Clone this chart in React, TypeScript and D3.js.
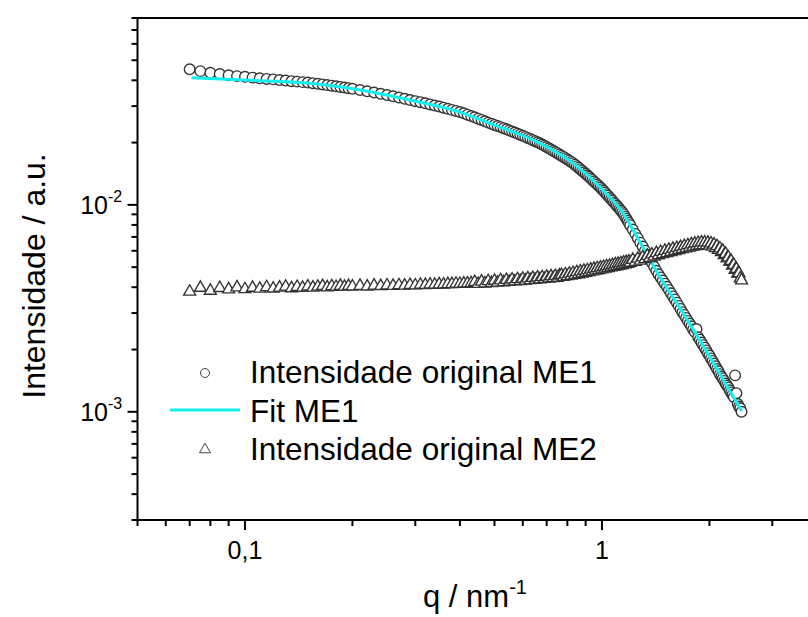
import React from "react";
import * as d3 from "d3";

// ---------- data ----------
const qValues = [
  0.070, 0.075, 0.080, 0.085, 0.090, 0.095, 0.100, 0.105, 0.110, 0.115, 0.120, 0.125, 0.130, 0.135,
  0.140, 0.145, 0.150, 0.155, 0.160, 0.165, 0.170, 0.175, 0.180, 0.185, 0.190, 0.195, 0.200,
  0.21, 0.22, 0.23, 0.24, 0.25, 0.26, 0.27, 0.28, 0.29, 0.30, 0.31, 0.32, 0.33, 0.34, 0.35, 0.36,
  0.37, 0.38, 0.39, 0.40, 0.41, 0.42, 0.43, 0.44, 0.45, 0.46, 0.47, 0.48, 0.49, 0.50, 0.51, 0.52,
  0.53, 0.54, 0.55, 0.56, 0.57, 0.58, 0.59, 0.60, 0.61, 0.62, 0.63, 0.64, 0.65, 0.66, 0.67, 0.68,
  0.69, 0.70, 0.71, 0.72, 0.73, 0.74, 0.75, 0.76, 0.77, 0.78, 0.79, 0.80, 0.81, 0.82, 0.83, 0.84,
  0.85, 0.86, 0.87, 0.88, 0.89, 0.90, 0.91, 0.92, 0.93, 0.94, 0.95, 0.96, 0.97, 0.98, 0.99, 1.00,
  1.01, 1.02, 1.03, 1.04, 1.05, 1.06, 1.07, 1.08, 1.09, 1.10, 1.11, 1.12, 1.13, 1.14, 1.15, 1.16,
  1.17, 1.18, 1.19, 1.20,
  1.22, 1.24, 1.26, 1.28, 1.30, 1.32, 1.34, 1.36, 1.38, 1.40, 1.42, 1.44, 1.46, 1.48, 1.50, 1.52,
  1.54, 1.56, 1.58, 1.60, 1.62, 1.64, 1.66, 1.68, 1.70, 1.72, 1.74, 1.76, 1.78, 1.80, 1.82, 1.84,
  1.86, 1.88, 1.90, 1.92, 1.94, 1.96, 1.98, 2.00, 2.02, 2.04, 2.06, 2.08, 2.10, 2.12, 2.14, 2.16,
  2.18, 2.20, 2.22, 2.24, 2.26, 2.28, 2.30, 2.32, 2.34, 2.36, 2.38, 2.40, 2.42, 2.44, 2.46,
];

const me1Values = [
  0.0452, 0.0443, 0.0435, 0.0429, 0.0423, 0.0419, 0.0416, 0.0412, 0.0409, 0.0406, 0.0404, 0.0401, 0.0399, 0.0396,
  0.0394, 0.0392, 0.0390, 0.03874, 0.03847, 0.03821, 0.03794, 0.03768, 0.03742, 0.03716, 0.03690, 0.03665, 0.03639,
  0.03588, 0.03539, 0.03490, 0.03442, 0.03394, 0.03347, 0.03301, 0.03256, 0.03210, 0.03171, 0.03133, 0.03095, 0.03058, 0.03021, 0.02985, 0.02949,
  0.02913, 0.02878, 0.02843, 0.02809, 0.02769, 0.02728, 0.02688, 0.02649, 0.02610, 0.02572, 0.02534, 0.02497, 0.02464, 0.02434, 0.02405, 0.02376,
  0.02347, 0.02319, 0.02291, 0.02264, 0.02237, 0.02210, 0.02183, 0.02157, 0.02131, 0.02105, 0.02080, 0.02055, 0.02031, 0.02006, 0.01983, 0.01956,
  0.01930, 0.01903, 0.01877, 0.01852, 0.01826, 0.01801, 0.01777, 0.01752, 0.01728, 0.01705, 0.01681, 0.01658, 0.01636, 0.01613, 0.01591, 0.01564,
  0.01538, 0.01512, 0.01487, 0.01462, 0.01437, 0.01413, 0.01389, 0.01366, 0.01343, 0.01320, 0.01298, 0.01276, 0.01255, 0.01234, 0.01213, 0.01191,
  0.01169, 0.01148, 0.01127, 0.01107, 0.01087, 0.01067, 0.01047, 0.01028, 0.01010, 0.00992, 0.00974, 0.00956, 0.00939, 0.00922, 0.00902, 0.00880,
  0.00859, 0.00838, 0.00818, 0.00798,
  0.00760, 0.00724, 0.00690, 0.00657, 0.00629, 0.00601, 0.00575, 0.00549, 0.00525, 0.00502, 0.00480, 0.00462, 0.00446, 0.00431, 0.00416, 0.00402,
  0.00388, 0.00374, 0.00361, 0.00349, 0.00337, 0.00325, 0.00314, 0.00303, 0.00294, 0.00284, 0.00275, 0.00267, 0.00259, 0.00250, 0.00243, 0.00251,
  0.00229, 0.00223, 0.00216, 0.00210, 0.00204, 0.00198, 0.00192, 0.00187, 0.00181, 0.00176, 0.00171, 0.00166, 0.00161, 0.00157, 0.00152, 0.00148,
  0.00145, 0.00141, 0.00137, 0.00134, 0.00131, 0.00127, 0.00124, 0.00121, 0.00118, 0.00150, 0.00123, 0.00109, 0.00106, 0.00104, 0.00100,
];

const me2Values = [
  0.00388, 0.00405, 0.00392, 0.00404, 0.00398, 0.00407, 0.00399, 0.00405, 0.00401, 0.00408, 0.00402, 0.00406, 0.00410, 0.00403,
  0.00409, 0.00405, 0.00411, 0.00406, 0.00410, 0.00413, 0.00407, 0.00412, 0.00409, 0.00414, 0.00410, 0.00413, 0.00411,
  0.00414, 0.00411, 0.00415, 0.00413, 0.00416, 0.00414, 0.00417, 0.00415, 0.00418, 0.00416, 0.00419, 0.00418, 0.00420, 0.00419, 0.00421, 0.00420,
  0.00422, 0.00422, 0.00424, 0.00423, 0.00425, 0.00425, 0.00426,
  0.00432, 0.00423, 0.00434, 0.00425, 0.00436, 0.00427, 0.00438, 0.00429, 0.00440, 0.00431, 0.00442, 0.00433, 0.00444, 0.00435, 0.00446, 0.00437,
  0.00448, 0.00439, 0.00450, 0.00441, 0.00452, 0.00443, 0.00454, 0.00445, 0.00456, 0.00447, 0.00458, 0.00449, 0.00460, 0.00451, 0.00462, 0.00453,
  0.00464,
  0.00467, 0.00457, 0.00470, 0.00461, 0.00474, 0.00464, 0.00478, 0.00468, 0.00482, 0.00471, 0.00485, 0.00475, 0.00489, 0.00479, 0.00493, 0.00482,
  0.00496, 0.00486, 0.00500, 0.00490, 0.00504, 0.00493, 0.00507, 0.00497, 0.00511, 0.00501, 0.00515, 0.00504, 0.00518, 0.00508, 0.00522, 0.00512,
  0.00526, 0.00515, 0.00529, 0.00519, 0.00533, 0.00522, 0.00536, 0.00526, 0.00540, 0.00529, 0.00543, 0.00535,
  0.00553, 0.00540, 0.00560, 0.00548, 0.00568, 0.00557, 0.00578, 0.00565, 0.00587, 0.00574, 0.00596, 0.00582, 0.00604, 0.00589, 0.00611, 0.00596,
  0.00618, 0.00603, 0.00625, 0.00610, 0.00631, 0.00617, 0.00638, 0.00623, 0.00645, 0.00628, 0.00651, 0.00634, 0.00657, 0.00640, 0.00663, 0.00645,
  0.00667, 0.00649, 0.00670, 0.00651, 0.00671, 0.00650, 0.00669, 0.00647, 0.00664, 0.00640, 0.00655, 0.00630, 0.00644, 0.00618, 0.00628, 0.00602,
  0.00611, 0.00583, 0.00591, 0.00562, 0.00568, 0.00541, 0.00546, 0.00518, 0.00523, 0.00495, 0.00499, 0.00474, 0.00476, 0.00450, 0.00440,
];

const fitQ = [0.0709, 0.0888, 0.1102, 0.1521, 0.21, 0.2899, 0.4002, 0.4856, 0.6705, 0.8295, 0.9872, 1.1451, 1.2776, 1.4262, 1.6865, 1.7985, 2.1408, 2.4624];
const fitValues = [0.04115, 0.04046, 0.0398, 0.03866, 0.03588, 0.0321, 0.02808, 0.02476, 0.01982, 0.01592, 0.01219, 0.00913, 0.00661, 0.00473, 0.003, 0.00251, 0.00152, 0.00101];

const xMajorTicks = [0.1, 1];
const xMajorLabels = ["0,1", "1"];
const xMinorTicks = [0.05, 0.06, 0.07, 0.08, 0.09, 0.2, 0.3, 0.4, 0.5, 0.6, 0.7, 0.8, 0.9, 2, 3, 4];
const yMajorTicks = [0.001, 0.01];
const yMajorExponents = ["-3", "-2"];
const yMinorTicks = [0.0003, 0.0004, 0.0005, 0.0006, 0.0007, 0.0008, 0.0009, 0.002, 0.003, 0.004, 0.005, 0.006, 0.007, 0.008, 0.009, 0.02, 0.03, 0.04, 0.05, 0.06, 0.07, 0.08];

const legendLabels = ["Intensidade original ME1", "Fit ME1", "Intensidade original ME2"];

// ---------- layout ----------
const W = 808;
const H = 617;
const FONT = "'Liberation Sans', Arial, Helvetica, sans-serif";
const LEFT = 137.5;
const TOP = 18;
const BOTTOM = 520;
const DECADE_X = 357;

export default function App() {
  const x = d3.scaleLog().domain([0.05, 5]).range([LEFT, LEFT + 2 * DECADE_X]);
  const y = d3.scaleLog().domain([0.0003, 0.08]).range([BOTTOM, TOP]);

  const markerStroke = "#333333";
  const cyan = "#12F0F0";

  const fitLine = d3
    .line<number>()
    .x((_, i) => x(fitQ[i]))
    .y((d) => y(d))
    .curve(d3.curveMonotoneX);

  const triPath = (cx: number, cy: number, s: number) => {
    const h = s * 0.866;
    return `M${cx - s / 2},${cy + h / 2}L${cx + s / 2},${cy + h / 2}L${cx},${cy - h / 2}Z`;
  };

  const rightEdge = W + 60;

  return (
    <svg
      width={W}
      height={H}
      style={{ position: "absolute", left: 0, top: 0, background: "#fff" }}
      fontFamily={FONT}
    >
      <rect x={0} y={0} width={W} height={H} fill="#fff" />

      {/* ME1 circles */}
      <g>
        {qValues.map((q, i) => (
          <circle key={"c" + i} cx={x(q)} cy={y(me1Values[i])} r={5.3} fill="#fff" stroke={markerStroke} strokeWidth={1.35} />
        ))}
      </g>

      {/* Fit line */}
      <path d={fitLine(fitValues) || ""} fill="none" stroke={cyan} strokeWidth={3} />

      {/* ME2 triangles */}
      <g>
        {qValues.map((q, i) => (
          <path key={"t" + i} d={triPath(x(q), y(me2Values[i]), 12)} fill="#fff" stroke={markerStroke} strokeWidth={1.35} />
        ))}
      </g>

      {/* Frame */}
      <line x1={LEFT} y1={TOP} x2={rightEdge} y2={TOP} stroke="#000" strokeWidth={2} />
      <line x1={LEFT} y1={TOP - 1} x2={LEFT} y2={BOTTOM + 1} stroke="#000" strokeWidth={2} />
      <line x1={LEFT - 1} y1={BOTTOM} x2={rightEdge} y2={BOTTOM} stroke="#000" strokeWidth={2} />

      {/* X ticks */}
      {xMinorTicks.map((t, i) => (
        <line key={"xm" + i} x1={x(t)} x2={x(t)} y1={BOTTOM} y2={BOTTOM + 6} stroke="#000" strokeWidth={2} />
      ))}
      {xMajorTicks.map((t, i) => (
        <g key={"xM" + i}>
          <line x1={x(t)} x2={x(t)} y1={BOTTOM} y2={BOTTOM + 10} stroke="#000" strokeWidth={2} />
          <text x={x(t)} y={559} fontSize={25} textAnchor="middle" fill="#000">
            {xMajorLabels[i]}
          </text>
        </g>
      ))}

      {/* Y ticks */}
      {yMinorTicks.map((t, i) => (
        <line key={"ym" + i} x1={LEFT - 6} x2={LEFT} y1={y(t)} y2={y(t)} stroke="#000" strokeWidth={2} />
      ))}
      {yMajorTicks.map((t, i) => (
        <g key={"yM" + i}>
          <line x1={LEFT - 10} x2={LEFT} y1={y(t)} y2={y(t)} stroke="#000" strokeWidth={2} />
          <text x={108} y={y(t) + 9} fontSize={25} textAnchor="end" fill="#000">
            10
          </text>
          <text x={108} y={y(t) - 3} fontSize={16} textAnchor="start" fill="#000">
            {yMajorExponents[i]}
          </text>
        </g>
      ))}

      {/* Axis titles */}
      <text
        transform={`translate(45,${276}) rotate(-90)`}
        fontSize={32}
        textAnchor="middle"
        fill="#000"
      >
        Intensidade / a.u.
      </text>
      <text x={423} y={607} fontSize={31} fill="#000">
        q / nm
        <tspan fontSize={20} dy={-13}>-1</tspan>
      </text>

      {/* Legend */}
      <circle cx={205} cy={373} r={4.5} fill="#fff" stroke="#444" strokeWidth={1} />
      <line x1={170} x2={240} y1={410} y2={410} stroke={cyan} strokeWidth={3} />
      <path d={triPath(205, 448, 11)} fill="#fff" stroke="#444" strokeWidth={1} />
      {legendLabels.map((l, i) => (
        <text key={"lg" + i} x={250} y={383 + i * 38.5} fontSize={31.5} fill="#000">
          {l}
        </text>
      ))}
    </svg>
  );
}
